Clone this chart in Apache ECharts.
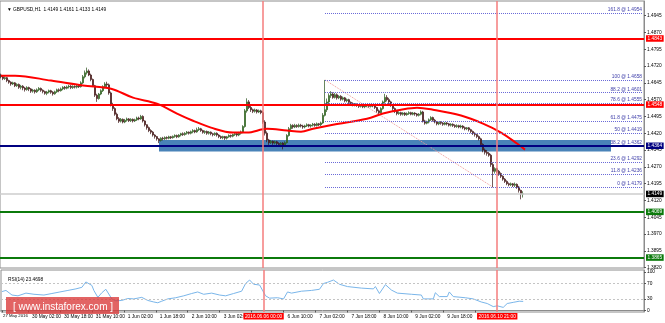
<!DOCTYPE html>
<html><head><meta charset="utf-8">
<script src="https://cdn.jsdelivr.net/npm/echarts@6/dist/echarts.min.js"></script>
<style>html,body{margin:0;padding:0;background:#fff}#c{width:665px;height:323px}</style>
</head><body><div id="c"></div>
<script>
// ---- DATA (hourly candles: [open, close, low, high]) ----
const symbolName = 'GBPUSD,H1';
const may27 = [[1.4680,1.4672,1.4665,1.4686],[1.4672,1.4664,1.4657,1.4677],[1.4664,1.4668,1.4658,1.4674],[1.4668,1.4655,1.4648,1.4671],[1.4655,1.4648,1.4641,1.4659],[1.4648,1.4640,1.4632,1.4652],[1.4640,1.4645,1.4635,1.4650],[1.4645,1.4632,1.4626,1.4648],[1.4632,1.4638,1.4627,1.4643],[1.4638,1.4625,1.4618,1.4642],[1.4625,1.4630,1.4616,1.4636]];
const may30 = [[1.4630,1.4622,1.4612,1.4635],[1.4622,1.4615,1.4606,1.4627],[1.4615,1.4624,1.4610,1.4630],[1.4624,1.4618,1.4608,1.4628],[1.4618,1.4608,1.4600,1.4622],[1.4608,1.4612,1.4601,1.4618],[1.4612,1.4605,1.4597,1.4616],[1.4605,1.4614,1.4600,1.4620],[1.4614,1.4620,1.4608,1.4626],[1.4620,1.4612,1.4605,1.4624],[1.4612,1.4606,1.4598,1.4616],[1.4606,1.4598,1.4592,1.4610],[1.4598,1.4604,1.4590,1.4609],[1.4604,1.4610,1.4598,1.4615],[1.4610,1.4603,1.4596,1.4614],[1.4603,1.4596,1.4588,1.4608],[1.4596,1.4605,1.4592,1.4610],[1.4605,1.4614,1.4600,1.4619],[1.4614,1.4610,1.4603,1.4620],[1.4610,1.4618,1.4606,1.4624],[1.4618,1.4625,1.4612,1.4630],[1.4625,1.4621,1.4614,1.4631],[1.4621,1.4627,1.4616,1.4633],[1.4627,1.4630,1.4620,1.4636]];
const may31 = [[1.4630,1.4624,1.4617,1.4635],[1.4624,1.4629,1.4618,1.4634],[1.4629,1.4626,1.4620,1.4634],[1.4626,1.4631,1.4620,1.4636],[1.4631,1.4628,1.4622,1.4636],[1.4628,1.4645,1.4624,1.4652],[1.4645,1.4672,1.4640,1.4680],[1.4672,1.4690,1.4665,1.4700],[1.4690,1.4698,1.4682,1.4713],[1.4698,1.4680,1.4675,1.4705],[1.4680,1.4660,1.4652,1.4686],[1.4660,1.4632,1.4626,1.4664],[1.4632,1.4590,1.4582,1.4636],[1.4590,1.4575,1.4560,1.4596],[1.4575,1.4595,1.4570,1.4600],[1.4595,1.4610,1.4590,1.4616],[1.4610,1.4628,1.4604,1.4634],[1.4628,1.4640,1.4620,1.4648],[1.4640,1.4636,1.4626,1.4650],[1.4636,1.4600,1.4592,1.4642],[1.4600,1.4548,1.4540,1.4606],[1.4548,1.4530,1.4520,1.4556],[1.4530,1.4505,1.4498,1.4536],[1.4505,1.4485,1.4478,1.4512]];
const jun1 = [[1.4485,1.4474,1.4466,1.4492],[1.4474,1.4482,1.4468,1.4488],[1.4482,1.4470,1.4464,1.4486],[1.4470,1.4478,1.4465,1.4484],[1.4478,1.4484,1.4472,1.4490],[1.4484,1.4476,1.4470,1.4488],[1.4476,1.4482,1.4470,1.4487],[1.4482,1.4475,1.4468,1.4486],[1.4475,1.4480,1.4470,1.4485],[1.4480,1.4488,1.4475,1.4494],[1.4488,1.4484,1.4478,1.4494],[1.4484,1.4495,1.4480,1.4502],[1.4495,1.4475,1.4468,1.4500],[1.4475,1.4458,1.4450,1.4478],[1.4458,1.4445,1.4436,1.4460],[1.4445,1.4432,1.4425,1.4450],[1.4432,1.4425,1.4416,1.4438],[1.4425,1.4412,1.4405,1.4430],[1.4412,1.4405,1.4396,1.4416],[1.4405,1.4395,1.4387,1.4408],[1.4395,1.4388,1.4376,1.4398],[1.4388,1.4398,1.4383,1.4402],[1.4398,1.4395,1.4388,1.4404],[1.4395,1.4401,1.4390,1.4406]];
const jun2 = [[1.4401,1.4398,1.4392,1.4406],[1.4398,1.4404,1.4393,1.4409],[1.4404,1.4400,1.4394,1.4408],[1.4400,1.4406,1.4396,1.4410],[1.4406,1.4410,1.4400,1.4415],[1.4410,1.4404,1.4398,1.4414],[1.4404,1.4412,1.4400,1.4416],[1.4412,1.4418,1.4406,1.4422],[1.4418,1.4414,1.4408,1.4424],[1.4414,1.4420,1.4409,1.4425],[1.4420,1.4425,1.4414,1.4430],[1.4425,1.4420,1.4414,1.4428],[1.4420,1.4427,1.4415,1.4432],[1.4427,1.4432,1.4420,1.4438],[1.4432,1.4426,1.4420,1.4436],[1.4426,1.4436,1.4422,1.4445],[1.4436,1.4440,1.4430,1.4448],[1.4440,1.4432,1.4426,1.4444],[1.4432,1.4424,1.4418,1.4436],[1.4424,1.4428,1.4417,1.4433],[1.4428,1.4420,1.4413,1.4432],[1.4420,1.4425,1.4414,1.4430],[1.4425,1.4418,1.4411,1.4428],[1.4418,1.4414,1.4406,1.4422]];
const jun3 = [[1.4414,1.4420,1.4408,1.4424],[1.4420,1.4412,1.4405,1.4424],[1.4412,1.4405,1.4398,1.4416],[1.4405,1.4400,1.4394,1.4410],[1.4400,1.4405,1.4393,1.4409],[1.4405,1.4398,1.4390,1.4408],[1.4398,1.4404,1.4392,1.4408],[1.4404,1.4410,1.4400,1.4415],[1.4410,1.4407,1.4400,1.4414],[1.4407,1.4414,1.4402,1.4418],[1.4414,1.4418,1.4408,1.4424],[1.4418,1.4412,1.4405,1.4422],[1.4412,1.4420,1.4407,1.4426],[1.4420,1.4426,1.4414,1.4432],[1.4426,1.4450,1.4420,1.4456],[1.4450,1.4520,1.4445,1.4528],[1.4520,1.4560,1.4512,1.4576],[1.4560,1.4535,1.4528,1.4568],[1.4535,1.4525,1.4515,1.4545],[1.4525,1.4518,1.4510,1.4530],[1.4518,1.4524,1.4512,1.4530],[1.4524,1.4515,1.4508,1.4528],[1.4515,1.4520,1.4510,1.4526],[1.4520,1.4512,1.4505,1.4525]];
const jun6 = [[1.4512,1.4470,1.4462,1.4520],[1.4470,1.4420,1.4410,1.4478],[1.4420,1.4390,1.4380,1.4428],[1.4390,1.4378,1.4368,1.4395],[1.4378,1.4384,1.4372,1.4390],[1.4384,1.4376,1.4368,1.4388],[1.4376,1.4382,1.4370,1.4387],[1.4382,1.4374,1.4365,1.4386],[1.4374,1.4370,1.4362,1.4380],[1.4370,1.4376,1.4358,1.4380],[1.4376,1.4365,1.4348,1.4380],[1.4365,1.4378,1.4360,1.4384],[1.4378,1.4410,1.4374,1.4416],[1.4410,1.4440,1.4405,1.4448],[1.4440,1.4455,1.4432,1.4462],[1.4455,1.4448,1.4440,1.4460],[1.4448,1.4455,1.4443,1.4462],[1.4455,1.4450,1.4444,1.4460],[1.4450,1.4456,1.4445,1.4463],[1.4456,1.4452,1.4446,1.4462],[1.4452,1.4448,1.4440,1.4458],[1.4448,1.4453,1.4442,1.4458],[1.4453,1.4458,1.4448,1.4464],[1.4458,1.4452,1.4446,1.4462]];
const jun7 = [[1.4452,1.4456,1.4445,1.4460],[1.4456,1.4460,1.4450,1.4466],[1.4460,1.4455,1.4449,1.4465],[1.4455,1.4462,1.4450,1.4468],[1.4462,1.4458,1.4452,1.4466],[1.4458,1.4466,1.4452,1.4472],[1.4466,1.4500,1.4462,1.4510],[1.4500,1.4525,1.4495,1.4658],[1.4525,1.4560,1.4515,1.4575],[1.4560,1.4588,1.4550,1.4598],[1.4588,1.4595,1.4578,1.4608],[1.4595,1.4580,1.4574,1.4603],[1.4580,1.4592,1.4575,1.4600],[1.4592,1.4578,1.4570,1.4598],[1.4578,1.4585,1.4572,1.4590],[1.4585,1.4572,1.4565,1.4590],[1.4572,1.4578,1.4566,1.4584],[1.4578,1.4565,1.4558,1.4582],[1.4565,1.4570,1.4558,1.4575],[1.4570,1.4558,1.4550,1.4574],[1.4558,1.4552,1.4545,1.4562],[1.4552,1.4546,1.4540,1.4558],[1.4546,1.4550,1.4540,1.4555],[1.4550,1.4544,1.4538,1.4553]];
const jun8 = [[1.4544,1.4540,1.4533,1.4548],[1.4540,1.4545,1.4535,1.4550],[1.4545,1.4538,1.4532,1.4548],[1.4538,1.4542,1.4532,1.4546],[1.4542,1.4545,1.4536,1.4550],[1.4545,1.4540,1.4534,1.4549],[1.4540,1.4546,1.4535,1.4551],[1.4546,1.4542,1.4536,1.4550],[1.4542,1.4535,1.4528,1.4546],[1.4535,1.4520,1.4512,1.4538],[1.4520,1.4512,1.4505,1.4526],[1.4512,1.4530,1.4508,1.4536],[1.4530,1.4560,1.4525,1.4566],[1.4560,1.4580,1.4552,1.4596],[1.4580,1.4570,1.4562,1.4590],[1.4570,1.4560,1.4550,1.4578],[1.4560,1.4545,1.4538,1.4565],[1.4545,1.4530,1.4520,1.4550],[1.4530,1.4518,1.4510,1.4535],[1.4518,1.4508,1.4500,1.4522],[1.4508,1.4512,1.4502,1.4518],[1.4512,1.4505,1.4498,1.4516],[1.4505,1.4510,1.4499,1.4514],[1.4510,1.4503,1.4497,1.4514]];
const jun9 = [[1.4503,1.4508,1.4498,1.4513],[1.4508,1.4512,1.4502,1.4518],[1.4512,1.4505,1.4500,1.4516],[1.4505,1.4510,1.4500,1.4515],[1.4510,1.4506,1.4498,1.4514],[1.4506,1.4500,1.4494,1.4510],[1.4500,1.4505,1.4495,1.4510],[1.4505,1.4515,1.4500,1.4522],[1.4515,1.4475,1.4468,1.4520],[1.4475,1.4465,1.4458,1.4480],[1.4465,1.4470,1.4460,1.4476],[1.4470,1.4480,1.4464,1.4486],[1.4480,1.4490,1.4475,1.4496],[1.4490,1.4478,1.4472,1.4494],[1.4478,1.4470,1.4464,1.4484],[1.4470,1.4462,1.4455,1.4474],[1.4462,1.4468,1.4456,1.4472],[1.4468,1.4465,1.4458,1.4474],[1.4465,1.4460,1.4453,1.4470],[1.4460,1.4466,1.4455,1.4470],[1.4466,1.4462,1.4455,1.4470],[1.4462,1.4456,1.4450,1.4466],[1.4456,1.4460,1.4450,1.4465],[1.4460,1.4455,1.4448,1.4464]];
const jun10 = [[1.4455,1.4450,1.4444,1.4460],[1.4450,1.4454,1.4444,1.4460],[1.4454,1.4448,1.4442,1.4458],[1.4448,1.4452,1.4442,1.4458],[1.4452,1.4445,1.4438,1.4456],[1.4445,1.4440,1.4433,1.4450],[1.4440,1.4444,1.4434,1.4448],[1.4444,1.4436,1.4428,1.4448],[1.4436,1.4428,1.4420,1.4440],[1.4428,1.4420,1.4412,1.4432],[1.4420,1.4414,1.4405,1.4424],[1.4414,1.4405,1.4398,1.4418],[1.4405,1.4395,1.4388,1.4410],[1.4395,1.4370,1.4360,1.4400],[1.4370,1.4345,1.4335,1.4375],[1.4345,1.4335,1.4325,1.4352],[1.4335,1.4330,1.4320,1.4345],[1.4330,1.4322,1.4315,1.4336],[1.4322,1.4280,1.4270,1.4328],[1.4280,1.4250,1.4179,1.4290],[1.4250,1.4262,1.4240,1.4268],[1.4262,1.4250,1.4242,1.4266],[1.4250,1.4240,1.4230,1.4256],[1.4240,1.4228,1.4220,1.4245]];
const jun13 = [[1.4228,1.4215,1.4208,1.4232],[1.4215,1.4205,1.4198,1.4220],[1.4205,1.4195,1.4188,1.4210],[1.4195,1.4190,1.4183,1.4200],[1.4190,1.4194,1.4184,1.4200],[1.4194,1.4188,1.4180,1.4198],[1.4188,1.4192,1.4180,1.4200],[1.4192,1.4180,1.4172,1.4196],[1.4180,1.4165,1.4155,1.4185],[1.4165,1.4149,1.4125,1.4168],[1.4149,1.4149,1.4133,1.4161]];

const maPoints = [[0,1.4677],[7,1.4677],[25,1.4655],[41,1.4633],[55,1.4619],[66,1.4579],[78,1.4552],[88,1.4508],[96,1.4476],[105,1.4445],[116,1.4423],[123,1.4423],[133,1.4440],[143,1.4432],[150,1.4427],[156,1.4440],[166,1.4458],[183,1.4485],[191,1.4508],[200,1.4525],[208,1.4534],[216,1.4525],[230,1.4499],[241,1.4463],[250,1.4423],[258,1.4374],[262,1.4347]];

const rsiPoints = [[0,49],[2,52],[5,40],[8,38],[12,45],[16,42],[21,40],[25,44],[29,48],[33,52],[37,56],[40,60],[42,74],[43,77],[45,65],[46,52],[48,34],[50,46],[52,55],[53,53],[55,30],[57,25],[60,26],[63,31],[66,30],[70,34],[73,26],[76,22],[78,20],[80,24],[83,30],[87,33],[91,38],[95,44],[98,48],[101,42],[105,45],[109,40],[112,38],[116,44],[120,50],[122,70],[124,79],[126,68],[129,66],[130,62],[132,38],[134,32],[138,33],[141,30],[143,48],[145,45],[150,50],[155,52],[159,55],[161,70],[163,73],[166,79],[169,68],[173,62],[180,58],[186,56],[187,62],[189,44],[192,67],[195,53],[198,45],[205,42],[210,40],[211,30],[216,30],[217,46],[219,36],[223,36],[224,48],[226,36],[232,33],[236,30],[240,22],[243,18],[246,10],[248,12],[251,8],[252,9],[253,18],[256,21],[259,24],[261,23.4698]];
const rsiLast = 23.4698;

const priceTicks = [1.4945,1.4870,1.4795,1.4720,1.4645,1.4570,1.4495,1.4420,1.4345,1.4270,1.4195,1.4120,1.4045,1.3970,1.3895,1.3820];
const rsiTicks = [0,30,70,100];
const rsiLevels = [30,70];
const xTickIdx = [0,13,29,45,61,77,93,109,125,141,157,173,189,205,221,237,253];
const xTickLabels = ['27 May 2016','30 May 02:00','30 May 18:00','31 May 10:00','1 Jun 02:00','1 Jun 18:00','2 Jun 10:00','3 Jun 02:00','3 Jun 18:00','6 Jun 10:00','7 Jun 02:00','7 Jun 18:00','8 Jun 10:00','9 Jun 02:00','9 Jun 18:00','10 Jun 10:00','13 Jun 02:00'];
const markerIdx = [131,248];
const markerLabels = ['2016.06.06 00:00','2016.06.10 21:00'];

const redLevels = [1.4843,1.4548];
const blueLevel = 1.4364;
const greenLevels = [1.4069,1.3865];
const currentPrice = 1.4149;
const zoneFrom = 79, zoneTo = 305, zoneLow = 1.4338, zoneHigh = 1.4390;

const fibLevels = ['161.8','100','88.2','78.6','61.8','50','38.2','23.6','11.8','0'];
const fibPrices = [1.4954,1.4658,1.4601,1.4555,1.4475,1.4419,1.4362,1.4292,1.4236,1.4179];
const fibFrom = 162, fibTo = 321;
const fibTrend = [[162,1.4658],[246,1.4179]];

// ---- BUILD ----
const candles = [].concat(may27,may30,may31,jun1,jun2,jun3,jun6,jun7,jun8,jun9,jun10,jun13);
const slots = 322;
const cats = Array.from({length: slots}, (_, i) => String(i));
const last = candles[candles.length - 1];
const FONT = '"Liberation Sans", Arial, sans-serif';
const FS = 4.8;
const tickSet = new Set(xTickIdx);

function levelLine(v, color, width, bg, fg) {
  return {
    yAxis: v,
    lineStyle: {color: color, width: width, type: 'solid'},
    label: {show: true, position: 'end', distance: 2, formatter: v.toFixed(4),
      backgroundColor: bg, color: fg, fontSize: FS, fontFamily: FONT, padding: [1, 1.5, 0.5, 1.5]}
  };
}

const levelData = [
  levelLine(currentPrice, '#cccccc', 1.5, '#000000', '#ffffff'),
  ...redLevels.map(v => levelLine(v, '#ff0000', 2, '#ff0000', '#ffffff')),
  levelLine(blueLevel, '#000080', 2, '#000080', '#ffffff'),
  ...greenLevels.map(v => levelLine(v, '#0b7a0b', 2, '#0b7a0b', '#ffffff'))
];

const fibData = fibPrices.map((p, k) => [
  {coord: [fibFrom, p], lineStyle: {color: '#6a6ad8', width: 1, type: 'dotted'},
   label: {show: true, position: 'insideEndTop', distance: 1, formatter: fibLevels[k] + ' @ ' + p.toFixed(4),
     color: '#3c3ca8', fontSize: FS, fontFamily: FONT}},
  {coord: [fibTo, p]}
]);

const markerMain = markerIdx.map(i => ({xAxis: i, lineStyle: {color: '#f47c7c', width: 1.5, type: 'solid'}, label: {show: false}}));
const markerRsi = markerIdx.map((i, k) => ({
  xAxis: i,
  lineStyle: {color: '#f47c7c', width: 1.5, type: 'solid'},
  label: {show: true, position: 'start', distance: 1, formatter: markerLabels[k],
    backgroundColor: '#ff0000', color: '#ffffff', fontSize: FS, fontFamily: FONT, padding: [1, 1.5, 0.5, 1.5]}
}));

const chart = echarts.init(document.getElementById('c'), null, {renderer: 'canvas'});
chart.setOption({
  animation: false,
  backgroundColor: '#ffffff',
  title: [
    {text: '\u25BC ' + symbolName + '  ' + [last[0], last[3], last[2], last[1]].map(v => v.toFixed(4)).join(' '),
     left: 2, top: 2, textStyle: {fontSize: FS, fontWeight: 'normal', color: '#000', fontFamily: FONT}},
    {text: 'RSI(14) ' + rsiLast.toFixed(4), left: 3, top: 272,
     textStyle: {fontSize: FS, fontWeight: 'normal', color: '#000', fontFamily: FONT}}
  ],
  grid: [
    {left: 0, top: 1, width: 644, height: 267, show: true, borderColor: '#8c8c8c', borderWidth: 1, backgroundColor: 'transparent'},
    {left: 0, top: 270, width: 644, height: 42, show: true, borderColor: '#8c8c8c', borderWidth: 1, backgroundColor: 'transparent'}
  ],
  xAxis: [
    {type: 'category', gridIndex: 0, data: cats, boundaryGap: true,
     axisLine: {show: false}, axisTick: {show: false}, axisLabel: {show: false}, splitLine: {show: false}},
    {type: 'category', gridIndex: 1, data: cats, boundaryGap: true,
     axisLine: {show: true, lineStyle: {color: '#8c8c8c', width: 1}},
     axisTick: {show: true, alignWithLabel: true, interval: (i) => tickSet.has(i), length: 2, lineStyle: {color: '#555'}},
     axisLabel: {show: true, interval: (i) => tickSet.has(i), showMinLabel: true, showMaxLabel: false, hideOverlap: false,
       align: 'left', margin: 2,
       formatter: (v) => { const k = xTickIdx.indexOf(Number(v)); return k < 0 ? '' : (k === 0 ? '{f|' + xTickLabels[k] + '}' : '{n|' + xTickLabels[k] + '}'); },
       rich: {
         f: {fontSize: 4.3, color: '#000', fontFamily: FONT, padding: [0, 0, 0, 1]},
         n: {fontSize: FS, color: '#000', fontFamily: FONT, padding: [0, 0, 0, 4]}
       },
       fontSize: FS, color: '#000', fontFamily: FONT},
     splitLine: {show: false}}
  ],
  yAxis: [
    {type: 'value', gridIndex: 0, position: 'right', min: 1.38184, max: 1.50104, scale: true,
     axisLine: {show: true, lineStyle: {color: '#8c8c8c'}},
     axisTick: {show: true, customValues: priceTicks, length: 2, lineStyle: {color: '#555'}},
     axisLabel: {show: true, customValues: priceTicks, formatter: (v) => v.toFixed(4), margin: 3,
       fontSize: FS, color: '#000', fontFamily: FONT},
     splitLine: {show: false}},
    {type: 'value', gridIndex: 1, position: 'right', min: -4, max: 105,
     axisLine: {show: true, lineStyle: {color: '#8c8c8c'}},
     axisTick: {show: true, customValues: rsiTicks, length: 2, lineStyle: {color: '#555'}},
     axisLabel: {show: true, customValues: rsiTicks, margin: 3, fontSize: FS, color: '#000', fontFamily: FONT},
     splitLine: {show: false}}
  ],
  series: [
    {type: 'candlestick', xAxisIndex: 0, yAxisIndex: 0, data: candles, barWidth: 1.5,
     itemStyle: {color: '#4fb82a', color0: '#7a1c1c', borderColor: '#27501a', borderColor0: '#3a1414', borderWidth: 0.7},
     markArea: {silent: true, itemStyle: {color: 'rgba(58,120,178,0.92)'},
       data: [[{coord: [zoneFrom, zoneHigh]}, {coord: [zoneTo, zoneLow]}]]},
     markLine: {silent: true, precision: 4, symbol: ['none', 'none'], animation: false,
       data: [...fibData, ...levelData, ...markerMain]}
    },
    {type: 'line', xAxisIndex: 0, yAxisIndex: 0, data: maPoints, smooth: 0.35, showSymbol: false,
     lineStyle: {color: '#ff0000', width: 2}, z: 3},
    {type: 'line', xAxisIndex: 0, yAxisIndex: 0, data: fibTrend, showSymbol: false,
     lineStyle: {color: '#f29a9a', width: 1, type: 'dotted'}, z: 2},
    {type: 'line', xAxisIndex: 1, yAxisIndex: 1, data: rsiPoints, showSymbol: false,
     lineStyle: {color: '#7ab6ea', width: 1},
     markLine: {silent: true, precision: 4, symbol: ['none', 'none'], animation: false,
       data: [...rsiLevels.map(v => ({yAxis: v, lineStyle: {color: '#c4c4c4', width: 1, type: [2, 2]}, label: {show: false}})),
              ...markerRsi]}
    }
  ],
  graphic: [
    {type: 'rect', left: 6, top: 297, shape: {width: 113, height: 17}, style: {fill: 'rgba(218,56,56,0.78)'}, z: 100},
    {type: 'text', left: 13, top: 302, style: {text: '[ www.instaforex.com ]', fill: '#ffffff', font: '10px "Liberation Sans", Arial, sans-serif'}, z: 101}
  ]
});
</script>
</body></html>
